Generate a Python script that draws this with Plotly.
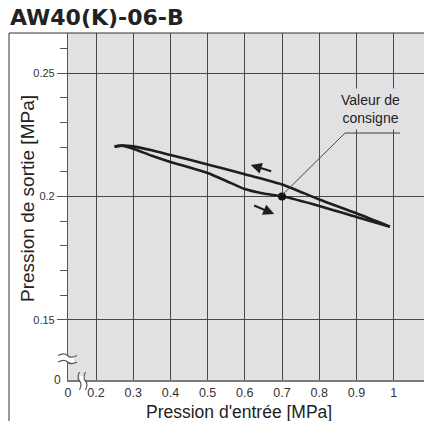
import plotly.graph_objects as go

# ---------------- data ----------------
up_x = [0.25, 0.27, 0.30, 0.35, 0.40, 0.50, 0.60, 0.70, 0.80, 0.90, 0.99]
up_y = [0.2202, 0.2206, 0.2203, 0.2187, 0.2168, 0.2130, 0.2090, 0.2049, 0.1988, 0.1932, 0.1878]

low_x = [0.25, 0.27, 0.30, 0.35, 0.40, 0.45, 0.50, 0.55, 0.60, 0.65, 0.70, 0.80, 0.90, 0.99]
low_y = [0.2202, 0.2206, 0.2193, 0.2165, 0.2140, 0.2118, 0.2095, 0.2063, 0.2030, 0.2012, 0.2001, 0.1962, 0.1917, 0.1878]

set_x = [0.70]
set_y = [0.20]

x_tickvals = [0.1247, 0.2, 0.3, 0.4, 0.5, 0.6, 0.7, 0.8, 0.9, 1.0]
x_ticktext = ["0", "0.2", "0.3", "0.4", "0.5", "0.6", "0.7", "0.8", "0.9", "1"]
y_tickvals = [0.15, 0.20, 0.25]
y_ticktext = ["0.15", "0.2", "0.25"]
y_minor = [0.16, 0.17, 0.18, 0.19, 0.21, 0.22, 0.23, 0.24, 0.26]
y_zero = 0.1257

title = "AW40(K)-06-B"
x_title = "Pression d'entrée [MPa]"
y_title = "Pression de sortie [MPa]"
note = "Valeur de<br>consigne"

# ---------------- layout helpers ----------------
W, H = 424, 421
L, R, T, B = 68, 0, 33, 41
PW, PH = W - L - R, H - T - B
def px(x):  # pixel x -> paper
    return (x - L) / PW
def py(y):  # pixel y -> paper
    return (H - B - y) / PH

BG = "#e1e1e3"
GRID = "#474747"
FONT = "Liberation Sans, Arial, sans-serif"

fig = go.Figure()
line_style = dict(color="#1e1e1e", width=2.6, shape="spline", smoothing=0.7)
fig.add_trace(go.Scatter(x=up_x, y=up_y, mode="lines", line=line_style, hoverinfo="skip"))
fig.add_trace(go.Scatter(x=low_x, y=low_y, mode="lines", line=line_style, hoverinfo="skip"))
fig.add_trace(go.Scatter(x=set_x, y=set_y, mode="markers",
                         marker=dict(color="#111", size=8), hoverinfo="skip"))

shapes = []
# outer frame (left and top)
shapes.append(dict(type="line", xref="paper", yref="paper", x0=px(9), x1=px(9),
                   y0=py(33), y1=py(425), line=dict(color="#333", width=1)))
shapes.append(dict(type="line", xref="paper", yref="paper", x0=px(9), x1=px(426),
                   y0=py(33), y1=py(33), line=dict(color="#333", width=1)))
# leader line
shapes.append(dict(type="line", xref="x", yref="y", x0=0.702, y0=0.2008, x1=0.8694, y1=0.2257,
                   line=dict(color="#444", width=1)))
shapes.append(dict(type="line", xref="x", yref="y", x0=0.8694, y0=0.2257, x1=1.0172, y1=0.2257,
                   line=dict(color="#444", width=1)))

# y-axis break (≈)
def wave_h(x0, x1, yc, amp):
    xm = (x0 + x1) / 2
    return (f"M {px(x0)},{py(yc)} C {px(x0 + (xm - x0) / 2)},{py(yc - amp)} "
            f"{px(xm - (xm - x0) / 4)},{py(yc - amp)} {px(xm)},{py(yc)} "
            f"C {px(xm + (x1 - xm) / 4)},{py(yc + amp)} {px(x1 - (x1 - xm) / 2)},{py(yc + amp)} {px(x1)},{py(yc)}")
shapes.append(dict(type="rect", xref="paper", yref="paper", x0=px(62), x1=px(74),
                   y0=py(356), y1=py(362), fillcolor="white", line=dict(width=0), layer="above"))
for yc in (355.5, 362):
    shapes.append(dict(type="path", xref="paper", yref="paper", path=wave_h(58, 77, yc, 2.5),
                       line=dict(color="#555", width=1.1), layer="above"))

# x-axis break )(
def wave_v(xc, y0, y1, amp):
    ym = (y0 + y1) / 2
    return (f"M {px(xc)},{py(y0)} C {px(xc - amp)},{py(y0 + (ym - y0) / 2)} "
            f"{px(xc - amp)},{py(ym - (ym - y0) / 4)} {px(xc)},{py(ym)} "
            f"C {px(xc + amp)},{py(ym + (y1 - ym) / 4)} {px(xc + amp)},{py(y1 - (y1 - ym) / 2)} {px(xc)},{py(y1)}")
shapes.append(dict(type="rect", xref="paper", yref="paper", x0=px(80), x1=px(85),
                   y0=py(376), y1=py(384), fillcolor="white", line=dict(width=0), layer="above"))
for xc in (79.5, 85.5):
    shapes.append(dict(type="path", xref="paper", yref="paper", path=wave_v(xc, 372, 390, 2.2),
                       line=dict(color="#555", width=1.1), layer="above"))

annotations = [
    dict(text=f"<b>{title}</b>", xref="paper", yref="paper", x=px(8), y=py(18),
         xanchor="left", yanchor="middle", showarrow=False,
         font=dict(family="DejaVu Sans, sans-serif", size=22, color="#222")),
    dict(text=y_title, xref="paper", yref="paper", x=px(28), y=py(199), textangle=-90,
         xanchor="center", yanchor="middle", showarrow=False,
         font=dict(family=FONT, size=19, color="#222")),
    dict(text=x_title, xref="paper", yref="paper", x=px(239), y=py(411.5),
         xanchor="center", yanchor="middle", showarrow=False,
         font=dict(family=FONT, size=17.5, color="#222")),
    dict(text="0", xref="paper", yref="y", x=px(63), y=y_zero,
         xanchor="right", yanchor="middle", showarrow=False,
         font=dict(family=FONT, size=12, color="#333")),
    dict(text=note, xref="x", yref="y", x=0.9366, y=0.2355,
         xanchor="center", yanchor="middle", showarrow=False, bgcolor=BG, borderpad=3,
         font=dict(family=FONT, size=14, color="#222")),
    # direction arrows
    dict(x=0.616, y=0.2128, ax=0.675, ay=0.2100, xref="x", yref="y", axref="x", ayref="y",
         text="", showarrow=True, arrowhead=2, arrowsize=1.1, arrowwidth=2, arrowcolor="#1e1e1e"),
    dict(x=0.679, y=0.1929, ax=0.621, ay=0.1966, xref="x", yref="y", axref="x", ayref="y",
         text="", showarrow=True, arrowhead=2, arrowsize=1.1, arrowwidth=2, arrowcolor="#1e1e1e"),
]

fig.update_layout(
    width=W, height=H, margin=dict(l=L, r=R, t=T, b=B, pad=0),
    paper_bgcolor="white", plot_bgcolor=BG, showlegend=False,
    shapes=shapes, annotations=annotations,
    font=dict(family=FONT, color="#333"),
    xaxis=dict(range=[0.1247, 1.0817], tickmode="array", tickvals=x_tickvals, ticktext=x_ticktext,
               showgrid=True, gridcolor=GRID, gridwidth=1, zeroline=False, ticks="",
               showline=True, linecolor="#7a7a7a", linewidth=1.5,
               tickfont=dict(family=FONT, size=12.5, color="#333"), ticklabelstandoff=0),
    yaxis=dict(range=[y_zero, 0.2662], tickmode="array", tickvals=y_tickvals, ticktext=y_ticktext,
               showgrid=True, gridcolor=GRID, gridwidth=1, zeroline=False,
               ticks="outside", ticklen=10, tickcolor="#555", tickwidth=1,
               showline=True, linecolor="#555", linewidth=1.2,
               tickfont=dict(family=FONT, size=11, color="#333"),
               minor=dict(tickmode="array", tickvals=y_minor, ticks="outside", ticklen=7,
                          tickcolor="#555", tickwidth=1, showgrid=False)),
)

fig.write_html("out.html", config={"displayModeBar": False},
               post_script="document.body.style.margin='0';document.body.style.overflow='hidden';")
